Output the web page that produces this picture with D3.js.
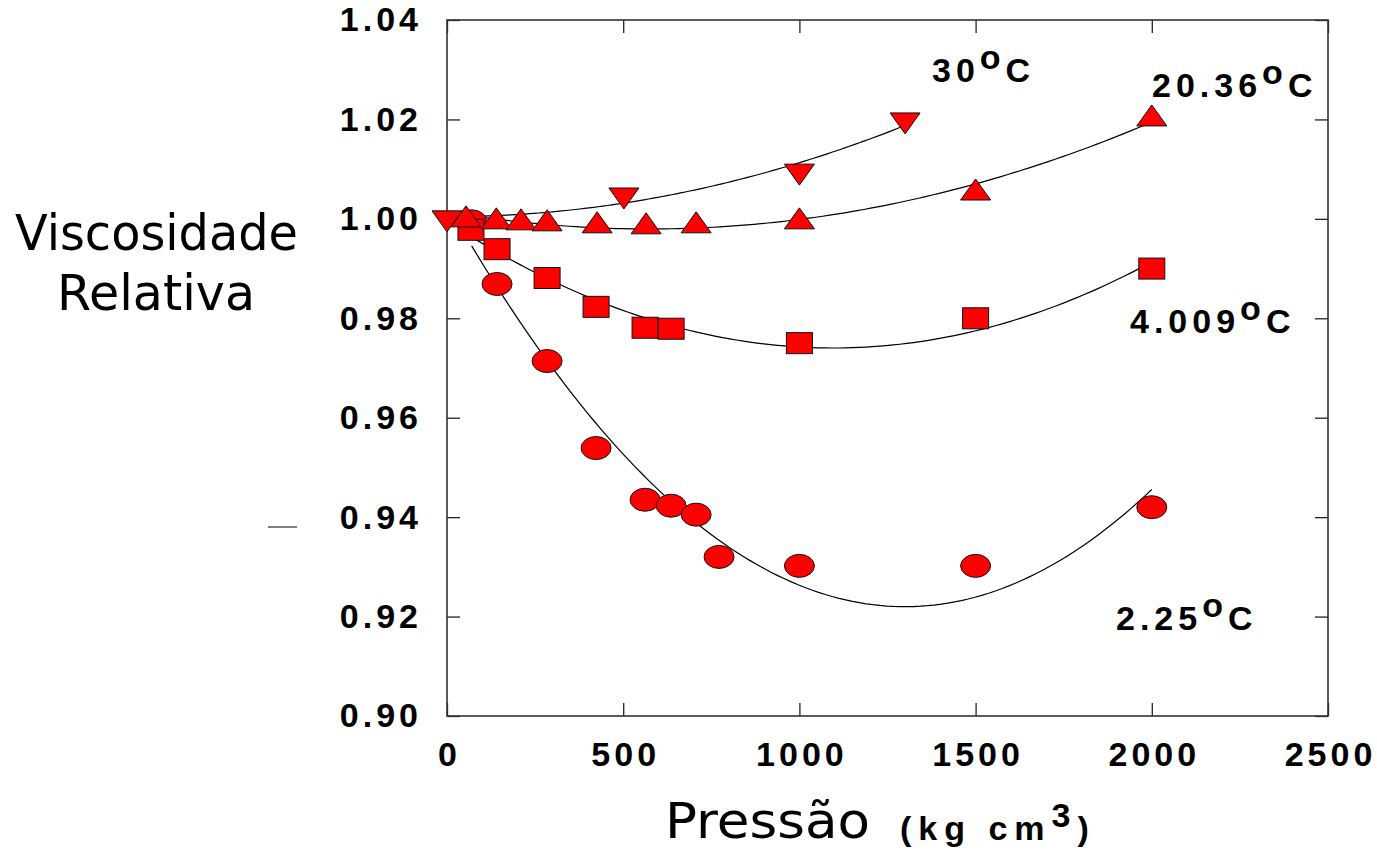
<!DOCTYPE html>
<html>
<head>
<meta charset="utf-8">
<script src="https://cdn.jsdelivr.net/npm/d3@7"></script>
<style>
  body { margin: 0; background: #fff; }
  .tick text { font-family: "Liberation Sans", Arial, sans-serif; font-weight: bold; font-size: 34px; letter-spacing: 4px; fill: #000; }
  .lbl { font-family: "Liberation Sans", Arial, sans-serif; font-weight: bold; font-size: 34px; letter-spacing: 5px; fill: #000; }
  .title { font-family: "DejaVu Sans", sans-serif; fill: #000; }
</style>
</head>
<body>
<svg width="1377" height="851"></svg>
<script>
// dados (pressão kg/cm2, viscosidade relativa)
const t225x = [70, 142, 284, 423, 562, 636, 707, 772, 1000, 1500, 2000];
const t225y = [0.9995, 0.9869, 0.9714, 0.9539, 0.9435, 0.9423, 0.9405, 0.932, 0.9302, 0.9302, 0.942];

const t4x = [68, 142, 284, 423, 562, 636, 1000, 1500, 2000];
const t4y = [0.9978, 0.9939, 0.9881, 0.9823, 0.9781, 0.9779, 0.975, 0.980, 0.990];

const t20x = [54, 140, 210, 284, 426, 565, 707, 1000, 1500, 2000];
const t20y = [1.0, 0.9996, 0.9994, 0.9992, 0.9988, 0.9986, 0.9988, 0.9996, 1.0054, 1.0203];

const t30x = [0, 502, 1000, 1300];
const t30y = [1.0, 1.0046, 1.0094, 1.0197];

const xTicks = [0, 500, 1000, 1500, 2000, 2500];
const yTicks = [0.90, 0.92, 0.94, 0.96, 0.98, 1.00, 1.02, 1.04];

const svg = d3.select('svg');
const plotL = 447, plotR = 1328, plotT = 20, plotB = 716;

const x = d3.scaleLinear().domain([0, 2500]).range([plotL, plotR]);
const y = d3.scaleLinear().domain([0.90, 1.04]).range([plotB, plotT]);

// eixos com ticks para dentro
svg.append('g')
    .attr('transform', `translate(0,${plotB})`)
    .call(d3.axisBottom(x).tickValues(xTicks).tickSize(-13).tickPadding(26).tickFormat(d3.format('d')))
    .call(g => g.selectAll('.tick text').attr('dx', '2px'));
svg.append('g')
    .attr('transform', `translate(0,${plotT})`)
    .call(d3.axisTop(x).tickValues(xTicks).tickSize(-13).tickFormat(''));
svg.append('g')
    .attr('transform', `translate(${plotL},0)`)
    .call(d3.axisLeft(y).tickValues(yTicks).tickSize(-13).tickPadding(25).tickFormat(d3.format('.2f')));
svg.append('g')
    .attr('transform', `translate(${plotR},0)`)
    .call(d3.axisRight(y).tickValues(yTicks).tickSize(-13).tickFormat(''));

svg.selectAll('.domain').remove();
svg.selectAll('.tick line').attr('stroke', '#222').attr('stroke-width', 1.3);

svg.append('rect')
    .attr('x', plotL).attr('y', plotT)
    .attr('width', plotR - plotL).attr('height', plotB - plotT)
    .attr('fill', 'none').attr('stroke', '#333').attr('stroke-width', 1.6);

// traço solto à esquerda
svg.append('line').attr('x1', 268).attr('x2', 297).attr('y1', 527).attr('y2', 527)
    .attr('stroke', '#000').attr('stroke-width', 1);

// ajuste polinomial de 2ª ordem por mínimos quadrados
function quadFit(xs, ys) {
    const s = [0, 0, 0, 0, 0], t = [0, 0, 0];
    xs.forEach((xi, i) => {
        for (let k = 0; k < 5; k++) s[k] += Math.pow(xi, k);
        for (let k = 0; k < 3; k++) t[k] += ys[i] * Math.pow(xi, k);
    });
    const A = [[s[0], s[1], s[2], t[0]], [s[1], s[2], s[3], t[1]], [s[2], s[3], s[4], t[2]]];
    for (let i = 0; i < 3; i++) {
        for (let j = i + 1; j < 3; j++) {
            const f = A[j][i] / A[i][i];
            for (let k = i; k < 4; k++) A[j][k] -= f * A[i][k];
        }
    }
    const c = [0, 0, 0];
    for (let i = 2; i >= 0; i--) {
        let v = A[i][3];
        for (let k = i + 1; k < 3; k++) v -= A[i][k] * c[k];
        c[i] = v / A[i][i];
    }
    return c;
}

const series = [
    {xs: t225x, ys: t225y, shape: 'circle'},
    {xs: t4x, ys: t4y, shape: 'square'},
    {xs: t20x, ys: t20y, shape: 'up'},
    {xs: t30x, ys: t30y, shape: 'down'}
];

const line = d3.line().x(d => x(d[0])).y(d => y(d[1]));
series.forEach(s => {
    const c = quadFit(s.xs, s.ys);
    const [x0, x1] = d3.extent(s.xs);
    const pts = d3.range(0, 101).map(i => {
        const xv = x0 + (x1 - x0) * i / 100;
        return [xv, c[0] + c[1] * xv + c[2] * xv * xv];
    });
    svg.append('path').attr('d', line(pts))
        .attr('fill', 'none').attr('stroke', '#000').attr('stroke-width', 1.2);
});

// marcadores
const mk = svg.append('g').attr('fill', '#ff0000').attr('stroke', '#111').attr('stroke-width', 1);
series.forEach(s => {
    const pts = s.xs.map((xv, i) => [x(xv), y(s.ys[i])]);
    const g = mk.append('g');
    if (s.shape === 'circle') {
        g.selectAll('ellipse').data(pts).enter().append('ellipse')
            .attr('cx', d => d[0]).attr('cy', d => d[1]).attr('rx', 15).attr('ry', 11.5);
    } else if (s.shape === 'square') {
        g.selectAll('rect').data(pts).enter().append('rect')
            .attr('x', d => d[0] - 13).attr('y', d => d[1] - 10.5).attr('width', 26).attr('height', 21);
    } else if (s.shape === 'up') {
        g.selectAll('path').data(pts).enter().append('path')
            .attr('d', d => `M${d[0]},${d[1] - 13}L${d[0] + 15},${d[1] + 8}L${d[0] - 15},${d[1] + 8}Z`);
    } else {
        g.selectAll('path').data(pts).enter().append('path')
            .attr('d', d => `M${d[0]},${d[1] + 13}L${d[0] + 15},${d[1] - 8}L${d[0] - 15},${d[1] - 8}Z`);
    }
});

// rótulos das temperaturas
const labels = [
    {t: '30', x: 932, y: 82},
    {t: '20.36', x: 1152, y: 97},
    {t: '4.009', x: 1130, y: 333},
    {t: '2.25', x: 1116, y: 630}
];
labels.forEach(l => {
    const tx = svg.append('text').attr('class', 'lbl').attr('x', l.x).attr('y', l.y);
    tx.append('tspan').text(l.t);
    tx.append('tspan').attr('dy', -13).attr('font-size', 34).text('o');
    tx.append('tspan').attr('dy', 13).text('C');
});

// títulos
svg.append('text').attr('class', 'title').attr('x', 15).attr('y', 250)
    .attr('font-size', 50).attr('textLength', 283).attr('lengthAdjust', 'spacingAndGlyphs')
    .text('Viscosidade');
svg.append('text').attr('class', 'title').attr('x', 57).attr('y', 310)
    .attr('font-size', 50).attr('textLength', 198).attr('lengthAdjust', 'spacingAndGlyphs')
    .text('Relativa');

svg.append('text').attr('class', 'title').attr('x', 665).attr('y', 838)
    .attr('font-size', 50).attr('textLength', 205).attr('lengthAdjust', 'spacingAndGlyphs')
    .text('Pressão');
const xu = svg.append('text').attr('class', 'lbl').attr('x', 900).attr('y', 840)
    .attr('font-size', 33).style('letter-spacing', '7px');
xu.append('tspan').text('(kg cm');
xu.append('tspan').attr('dy', -13).text('3');
xu.append('tspan').attr('dy', 13).text(')');
</script>
</body>
</html>
